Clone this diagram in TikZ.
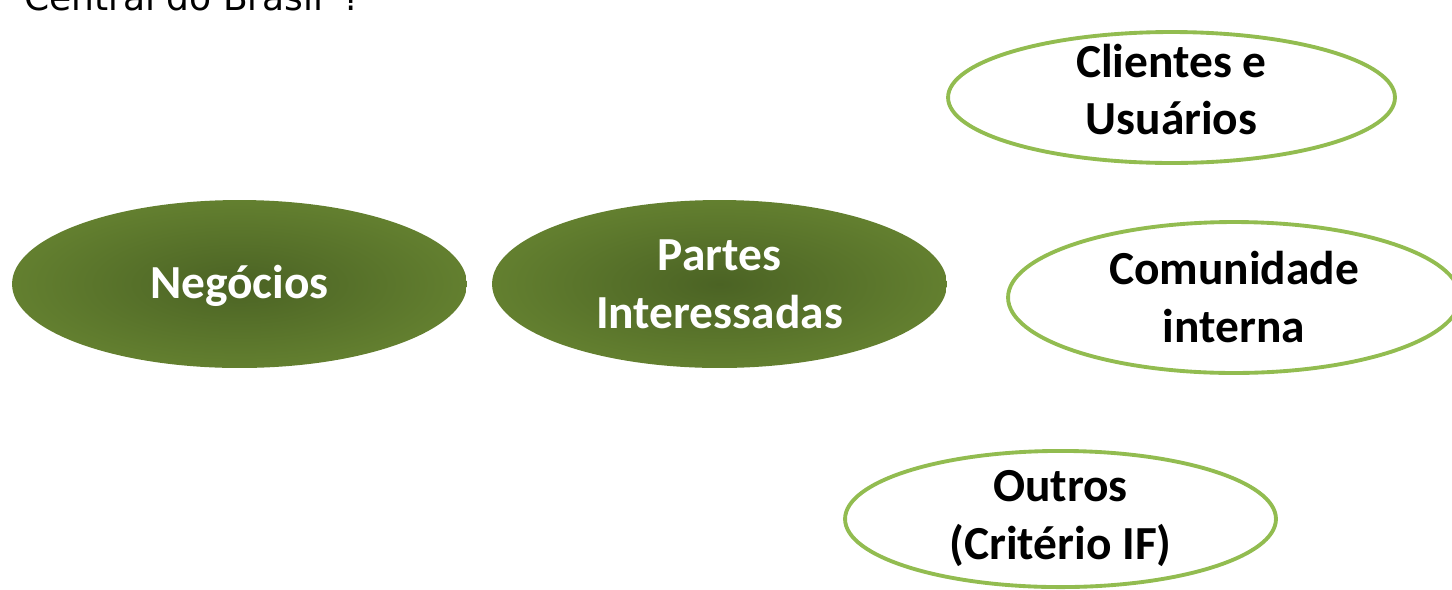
\documentclass[tikz,border=0pt]{standalone}
\usepackage{fontspec}
\setmainfont{Carlito}
\newfontfamily\headfont{DejaVu Sans}
\usetikzlibrary{positioning,shapes.geometric}
\definecolor{leafdark}{HTML}{4B6324}
\definecolor{leaflight}{HTML}{7B9C3B}
\definecolor{leafline}{HTML}{92BC50}
\pgfdeclareradialshading{leafglow}{\pgfpoint{0bp}{0bp}}{%
  color(0bp)=(leafdark); color(50bp)=(leaflight); color(72bp)=(leaflight)}

\begin{document}
\begin{tikzpicture}[
  x=0.02cm, y=-0.02cm,
  font=\bfseries\fontsize{27}{33}\selectfont,
  hub/.style={ellipse, align=center, text=white, shading=leafglow,
              minimum width=9.1cm, minimum height=3.36cm, inner sep=0pt},
  leaf/.style={ellipse, draw=leafline, line width=2.2pt, fill=white,
               align=center, text=black, inner sep=0pt}
]
\useasboundingbox (0,0) rectangle (1452,589);

% cut-off heading
\node[anchor=base west, inner sep=0pt, font=\headfont\fontsize{20.5}{24}\selectfont]
  (head) at (24,10) {Central do Brasil”?};

\node[hub, text height=0.74cm] (neg) at (239.5,284) {Negócios};
\node[hub] (partes) at (719.5,284) {Partes\\Interessadas};

\node[leaf, minimum width=8.94cm, minimum height=2.62cm, text height=1.5cm,
  text depth=0pt] (cli) at (1171.5,97.5) {Clientes e\\Usuários};
\node[leaf, minimum width=9.04cm, minimum height=3.02cm] (com) at (1234,297.5)
  {Comunidade\\interna};
\node[leaf, minimum width=8.62cm, minimum height=2.5cm] (out) at (1060.5,519)
  {Outros\\(Critério IF)};
\end{tikzpicture}
\end{document}
